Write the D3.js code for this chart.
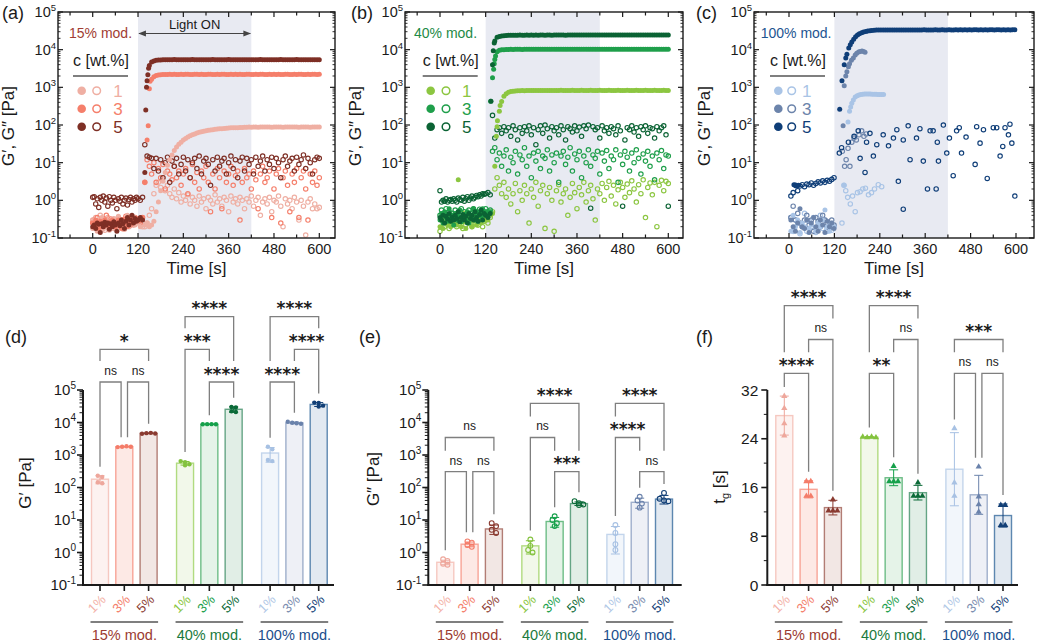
<!DOCTYPE html>
<html><head><meta charset="utf-8">
<script src="https://cdn.jsdelivr.net/npm/d3@7"></script>
<style>body{margin:0;background:#fff} svg{display:block} text{font-family:"Liberation Sans",Arial,sans-serif}</style>
</head><body><svg id="chart" width="1039" height="642"></svg>
<script>
// ================= DATA =================
const tPre = d3.range(0, 120, 4);      // sampling times before illumination (s)
const tPost = d3.range(120, 601, 6);   // sampling times from 120 s on
const tPreC = d3.range(5, 120, 6);     // panel (c) pre-illumination sampling
const tPlatC = d3.range(225, 599, 6);  // panel (c) plateau sampling
const lightOn = [120, 420];
const concLabels = ["1", "3", "5"];
const modLabels = ["15% mod.", "40% mod.", "100% mod."];
const concPct = ["1%", "3%", "5%"];
const xTickLabels = [0, 120, 240, 360, 480, 600];

// ---- (a) 15% mod. ----
const a_Gp1_pre = [0.18,0.3,0.22,0.15,0.28,0.2,0.35,0.17,0.25,0.3,0.2,0.16,0.27,0.22,0.33,0.19,0.25,0.38,0.2,0.28,0.17,0.3,0.24,0.4,0.21,0.3,0.26,0.36,0.22,0.3];
const a_Gp1_post = [0.25,0.2,0.3,0.22,0.25,0.2,0.22,0.28,0.5,0.9,1.8,3.2,5.5,8.5,12,16,21,26,31,35,40,44,48,52,55,58,61,64,66,68,70,72,74,75,77,78,79,80,81,82,83,84,84,85,85,86,86,87,87,88,87,88,88,87,88,88,89,88,88,87,88,89,88,88,87,88,89,88,88,89,88,87,88,89,88,88,87,88,89,88,88];
const a_Gp3_pre = [0.25,0.2,0.3,0.22,0.18,0.28,0.24,0.2,0.3,0.26,0.22,0.19,0.27,0.3,0.23,0.2,0.25,0.3,0.22,0.18,0.26,0.32,0.24,0.2,0.28,0.35,0.25,0.3,0.27,0.33];
const a_Gp3_post = [0.3,0.28,0.35,3,40,920,1650,1900,2050,2120,2150,2180,2200,2190,2210,2200,2220,2200,2190,2210,2200,2220,2210,2200,2190,2210,2220,2200,2210,2190,2200,2210,2220,2200,2190,2210,2200,2220,2210,2200,2190,2210,2200,2220,2200,2210,2190,2200,2220,2210,2200,2190,2210,2200,2220,2210,2200,2190,2210,2200,2220,2200,2210,2190,2200,2210,2220,2200,2190,2210,2200,2220,2210,2200,2190,2210,2200,2220,2210,2200,2210];
const a_Gp3_x = [[147,95],[152,1440]];
const a_Gp5_pre = [0.2,0.22,0.18,0.25,0.23,0.14,0.24,0.2,0.26,0.22,0.25,0.17,0.24,0.2,0.27,0.22,0.15,0.25,0.21,0.3,0.24,0.18,0.28,0.35,0.22,0.3,0.4,0.25,0.33,0.28];
const a_Gp5_post = [0.3,0.35,0.3,5.5,1500,3800,4700,5000,5200,5300,5350,5400,5380,5420,5400,5380,5450,5400,5420,5380,5400,5430,5380,5400,5450,5420,5400,5380,5410,5440,5400,5420,5380,5450,5400,5410,5430,5390,5400,5420,5450,5400,5380,5420,5410,5400,5440,5390,5420,5400,5430,5410,5380,5400,5450,5420,5400,5390,5410,5440,5400,5420,5380,5450,5400,5410,5430,5390,5400,5420,5450,5400,5380,5420,5410,5400,5440,5390,5420,5400,5410];
const a_Gp5_x = [[140.5,250],[142.5,1000],[146,2150],[148,3200]];
const a_Gpp1_pre = [0.3,0.2,0.35,0.25,0.18,0.4,0.22,0.3,0.16,0.28,0.35,0.2,0.25,0.3,0.18,0.27,0.22,0.33,0.2,0.26,0.3,0.17,0.24,0.32,0.2,0.28,0.35,0.22,0.3,0.25];
const a_Gpp1_post = [0.3,0.25,0.2,0.2,0.25,0.4,0.6,1.5,2.5,3,2.2,4,1.8,2.5,1.5,1.2,2,1.1,1.6,0.9,1.3,1.0,1.4,0.8,1.2,1.0,0.7,1.3,0.9,1.1,0.6,1.2,1.0,0.8,1.4,0.9,1.1,0.7,1.2,1.0,0.5,1.3,0.9,1.1,0.8,1.2,1.0,0.6,1.1,0.9,1.3,0.7,1.0,1.2,0.4,0.9,1.1,0.8,1.2,0.5,1.0,0.9,1.3,0.7,0.2,1.1,0.8,1.0,0.6,1.2,0.9,0.3,1.0,0.7,0.12,0.9,1.1,0.6,0.8,0.6,0.65];
const a_Gpp3_pre = [0.25,0.3,0.2,0.35,0.22,0.28,0.18,0.3,0.25,0.4,0.2,0.27,0.32,0.22,0.3,0.19,0.26,0.35,0.23,0.3,0.2,0.28,0.38,0.25,0.3,0.22,0.33,0.27,0.35,0.3];
const a_Gpp3_post = [0.3,0.25,0.35,3,12,8,5,10,3,7,4,9,2,6,5,3.5,8,4,6,2.5,5,7,1.5,4,9,3,5.5,2,6,4,8,3,0.5,5,2,7,4,0.6,6,3,5,8,2.5,4.5,6,0.3,3,7,4,5,2,6,3.5,0.6,5,8,3,4,6,0.35,2,5,7,0.25,4,6,2.5,0.5,5,3,7,0.35,4,6,2,0.3,5,3,6,2.5,4];
const a_Gpp5_pre = [1.2,1.25,0.8,1.1,0.65,1.2,1.0,1.3,0.9,1.15,0.7,1.25,1.0,0.85,1.2,1.0,0.6,1.1,0.95,1.2,0.8,1.0,1.15,0.75,1.05,1.2,0.9,1.1,1.0,1.2];
const a_Gpp5_post = [1.1,1.0,1.2,30,15,14,13,7,13,6,12,4,10,14,3,11,8,13,5,9,14,6,12,4,10,13,7,15,5,11,13,9,2.5,12,6,14,8,11,13,5,10,15,7,12,4,11,14,6,13,9,12,5,14,8,11,15,6,12,9,14,7,13,10,4,12,15,8,11,13,6,14,9,12,16,7,13,10,5,12,14,13];

// ---- (b) 40% mod. ----
const b_Gp1_pre = [0.2,0.3,0.18,0.25,0.35,0.22,0.28,0.2,0.32,0.25,0.4,0.22,3.5,0.3,0.2,0.27,0.35,0.18,0.3,0.25,0.4,0.2,0.28,0.33,0.22,0.3,0.45,0.25,0.35,0.3];
const b_Gp1_post = [0.35,0.3,0.4,0.45,8,90,230,420,580,680,740,770,790,800,810,815,820,815,820,825,820,825,830,825,820,830,825,830,825,820,830,825,830,835,825,830,825,830,835,830,825,830,835,830,825,830,835,830,825,830,835,830,825,830,835,830,830,825,835,830,825,830,835,830,825,830,835,830,825,830,835,830,825,830,835,830,825,830,835,830,830];
const b_Gp1_x = [[148,50],[151,130],[158,330]];
const b_Gp3_pre = [0.3,0.45,0.25,0.5,0.35,0.28,0.6,0.32,0.4,0.22,0.45,0.3,0.38,0.55,0.27,0.35,0.42,0.3,0.5,0.25,0.4,0.35,0.6,0.3,0.45,0.28,0.5,0.38,0.6,0.4];
const b_Gp3_post = [0.5,0.4,0.5,1800,5500,8800,9600,9900,10000,10100,10100,10200,10150,10200,10250,10200,10150,10250,10200,10300,10200,10250,10200,10300,10250,10200,10300,10250,10200,10300,10250,10300,10200,10250,10300,10250,10200,10300,10250,10300,10200,10250,10300,10250,10200,10300,10250,10300,10200,10250,10300,10250,10200,10300,10250,10300,10200,10250,10300,10250,10200,10300,10250,10300,10200,10250,10300,10250,10200,10300,10250,10300,10200,10250,10300,10250,10200,10300,10250,10300,10250];
const b_Gp3_x = [[133,430],[141,3000],[142.5,4200],[146,6800]];
const b_Gp5_pre = [0.35,0.3,0.4,0.25,0.38,0.32,0.45,0.28,0.36,0.3,0.4,0.33,0.5,0.27,0.35,0.42,0.3,0.38,0.25,0.45,0.33,0.4,0.3,0.5,0.35,0.28,0.42,0.55,0.3,0.45];
const b_Gp5_post = [0.4,0.35,0.45,4000,17000,21500,22500,23000,23500,23800,24000,24200,24100,24300,24200,24400,24300,24200,24400,24300,24500,24300,24400,24200,24500,24400,24300,24500,24400,24300,24500,24400,24600,24400,24500,24300,24500,24600,24400,24500,24600,24500,24400,24600,24500,24400,24600,24500,24700,24500,24600,24400,24600,24500,24700,24600,24500,24600,24400,24600,24500,24700,24600,24500,24600,24700,24500,24600,24400,24600,24500,24700,24600,24500,24600,24500,24700,24600,24500,24600,24500];
const b_Gp5_x = [[134,430],[140,9400],[142.5,15000]];
const b_Gpp1_pre = [0.15,0.3,0.4,0.2,0.25,0.35,0.18,0.3,0.22,0.4,0.28,0.2,0.35,0.25,0.3,0.18,0.45,0.22,0.3,0.26,0.38,0.2,0.3,0.25,0.4,0.22,0.35,0.3,0.2,0.28];
const b_Gpp1_post = [0.3,0.25,0.35,0.5,2,4,2.5,1.5,3,1.2,2,0.8,1.5,2.8,0.5,1.8,1,2.5,1.5,0.25,2,1.2,3,0.7,1.8,2.5,0.18,1.5,2.2,1,0.15,1.8,2.6,0.9,1.5,2,0.4,1.2,2.8,1.6,0.6,2.2,1.4,3,0.9,1.8,2.5,1.1,0.3,2,1.5,2.8,1,2.2,3.2,1.3,2.5,0.8,1.9,3,2.2,1.2,2.7,1.6,3.3,2,0.9,2.6,1.5,3.5,0.35,2.2,2.9,1.4,3,0.2,2.5,3.4,1.8,3.2,2.8];
const b_Gpp3_pre = [0.4,0.55,0.3,0.45,0.6,0.35,0.5,0.28,0.45,0.38,0.55,0.3,0.48,0.4,0.6,0.35,0.5,0.42,0.3,0.55,0.45,0.38,0.6,0.35,0.5,0.4,0.58,0.45,0.35,0.5];
const b_Gpp3_post = [0.6,0.5,0.55,20,25,12,18,8,15,22,6,14,10,20,5,16,12,25,8,15,4,18,11,20,7,15,13,22,6,16,10,18,3,15,20,9,14,25,6,17,12,20,4,15,10,22,8,16,13,20,5,18,11,21,7,15,12,22,3,16,9,20,14,6,18,10,22,13,5,17,11,20,8,15,3.5,18,12,21,7,16,15];
const b_Gpp5_pre = [1.8,0.9,1.0,0.95,1.1,0.9,1.0,1.05,0.95,1.1,1.0,0.9,1.15,1.05,1.0,1.2,0.95,1.1,1.25,1.0,1.15,1.3,1.1,1.2,1.35,1.25,1.4,1.3,1.5,1.45];
const b_Gpp5_post = [1.5,1.6,1.4,180,45,75,85,60,90,70,85,50,95,75,40,85,60,90,70,95,55,85,30,75,95,60,100,80,45,90,70,85,55,95,75,40,90,80,65,95,70,88,50,95,80,100,0.62,90,75,85,45,95,70,85,60,90,80,55,95,70,0.7,40,85,75,95,65,85,50,90,75,95,60,85,80,45,90,70,85,95,55,0.7];

// ---- (c) 100% mod. ----
const c_Gp1_pre = [0.15,0.4,0.2,0.3,0.14,0.25,0.2,0.3,0.18,0.22,0.35,0.15,0.25,0.2,0.3,0.55,0.2,0.15,0.25,0.2];
const c_Gp1_post = [[146,2.5],[156,120],[160,230],[163,300],[166,380],[170,460],[175,550],[180,600],[185,630],[190,650],[195,660],[200,670],[205,670],[210,665],[215,665],[220,660],[225,660],[230,655],[235,650],[240,650],[245,648],[250,645]];
const c_Gp3_pre = [0.3,0.2,0.15,0.25,0.6,0.2,0.18,0.3,0.14,0.25,0.35,0.2,0.15,0.3,0.22,0.14,0.28,0.2,0.25,0.18];
const c_Gp3_post = [[143,95],[146,1100],[150,2000],[153,2600],[157,3500],[160,4200],[165,5200],[170,6000],[175,7200],[179,8000],[184,8700],[188,9000],[193,9200],[197,9000],[201,8500]];
const c_Gp5_pre = [[13,2.6],[19,2.4],[25,2.5]];
const c_Gp5_post = [[134,260],[140,1500],[146,4000],[150,6000],[153,7500],[158,11000],[162,13500],[166,16000],[171,19000],[176,22000],[181,24500],[186,26500],[192,28000],[197,29500],[203,30500],[208,31500],[214,32000],[219,32500]];
const c_Gp5_plat = [33000,33200,33100,33300,33200,33400,33300,33200,33400,33300,33500,33300,33400,33200,33500,33400,33300,33500,33400,33300,33500,33400,33600,33400,33500,33300,33500,33600,33400,33500,33600,33500,33400,33600,33500,33400,33600,33500,33700,33500,33600,33400,33600,33500,33700,33600,33500,33600,33400,33600,33500,33700,33600,33500,33600,33700,33500,33600,33400,33600,33500,33700,33600];
const c_Gpp1_pre = [0.35,0.15,0.3,0.25,0.13,0.2,0.45,0.15,0.28,0.2,0.35,0.14,0.25,0.4,0.18,0.3,0.15,0.22,0.16,0.2];
const c_Gpp1_post = [[140,0.25],[145,2.5],[150,1.8],[155,1.2],[162,0.8],[168,1.3],[175,0.5],[181,1.6],[188,1.7],[195,2.0],[202,2.1],[210,1.4],[218,1.6],[226,2.0],[236,2.6],[245,2.3]];
const c_Gpp3_pre = [0.35,0.7,0.3,0.45,0.25,0.2,0.3,0.4,0.22,0.3,0.15,0.35,0.28,0.2,0.4,0.3,0.25,0.18,0.3,0.22];
const c_Gpp3_post = [[141,20],[147,8],[151,12],[156,24],[161,8],[166,35],[172,45],[178,40],[185,55],[192,70],[198,50],[204,58]];
const c_Gpp5_pre = [1.3,1.6,2.5,1.8,2.4,2.6,2.3,2.7,2.6,2.9,2.5,2.8,3.1,2.9,3.3,3.0,3.4,3.2,3.6,4.0];
const c_Gpp5_post = [[133,18],[139,25],[157,35],[172,50],[183,70],[188,13],[201,5.5],[205,35],[214,60],[223,15],[232,30],[249,55],[263,28],[276,45],[285,75],[289,3.2],[302,40],[302,0.58],[315,95],[320,12],[337,45],[346,80],[355,11],[366,2],[373,70],[381,70],[389,2],[392,35],[395,11],[408,100],[417,18],[424,45],[434,4.5],[443,70],[450,85],[456,18],[468,48],[492,9],[496,90],[505,33],[514,75],[524,3.8],[540,85],[549,85],[558,15],[565,27],[571,85],[580,55],[584,105],[589,33],[597,1.3]];

// ---- (d) G' bars, (e) G'' bars, (f) gelation time ----
const dMean = [180,1800,4650,560,8850,25500,1150,9750,36000];
const dSD = [50,40,120,70,60,5000,550,550,5000];
const dPts = [[230,210,145,135],[1750,1800,1850,1800],[4500,4700,4800,4600],[650,600,520,480],[8800,8900,8900,8800],[30000,29000,22000,21000],[1800,1500,700,650],[10500,9800,9500,9200],[41000,40000,33000,31000]];
const eMean = [0.5,1.8,5.3,1.6,9,32,3.6,35,44];
const eSD = [0.08,0.3,1.7,0.7,3,4,2.7,12,13];
const ePts = [[0.62,0.55,0.45,0.42],[2.2,2.0,1.7,1.5],[8,6.5,5,4],[2.5,1.6,1.2,1.0],[13,10,8,6.5],[38,33,30,29],[7,4,1.8,1.2],[52,40,32,24],[68,45,40,38]];
const fMean = [27.8,15.7,12.7,24.25,17.6,15.15,19.0,14.8,11.4];
const fSD = [3.2,1.4,1.2,0.1,1.3,1.2,6.0,3.2,1.9];
const fPts = [[31,29,26.5,24.5],[17,17,14.6,14.6],[14,12.2,12.2,12.2],[24.3,24.2,24.3,24.2],[19.5,17,17,17],[16.8,14.6,14.6,14.6],[25.7,16.8,14.6],[19.4,14.5,13.2,12.0],[13.1,13.1,9.8,9.8]];
// comparisons: [group, barA, barB, label, row]
const dComps = [[0,0,1,"ns",1],[0,1,2,"ns",1],[0,0,2,"*",2],[1,0,1,"***",2],[1,1,2,"****",1],[1,0,2,"****",3],[2,0,1,"****",1],[2,1,2,"****",2],[2,0,2,"****",3]];
const eComps = [[0,0,1,"ns",1],[0,1,2,"ns",1],[0,0,2,"ns",2],[1,0,1,"ns",2],[1,1,2,"***",1],[1,0,2,"****",3],[2,0,1,"****",2],[2,1,2,"ns",1],[2,0,2,"****",3]];
const fComps = [[0,0,1,"****",1],[0,1,2,"ns",2],[0,0,2,"****",3],[1,0,1,"**",1],[1,1,2,"ns",2],[1,0,2,"****",3],[2,0,1,"ns",1],[2,1,2,"ns",1],[2,0,2,"***",2]];
const fTicks = [0, 8, 16, 24, 32];

// ================= STYLE =================
const A_COL = ["#efafa3", "#f57f6b", "#7e2f25"];
const B_COL = ["#8cc641", "#1f9f4b", "#0b6334"];
const C_COL = ["#a9c4e6", "#6c84ab", "#0f3e78"];
const barFill = ["#fdf2f0","#fde9e5","#f2e7e4","#f2f8ea","#e5f3e8","#e1eee6","#f2f6fb","#eef0f6","#e2e9f1"];
const barStroke = ["#f6c8c0","#f8a497","#b27d75","#b1db80","#6dbd86","#65a585","#c3d5ec","#9fafcb","#5d87b0"];
const ptCol = ["#eea79c","#f47c69","#8a3a30","#83c23e","#15a04a","#0b6a38","#a7c1e3","#6a82ab","#123f76"];
const lblCol = ["#f3b2a8","#f4806c","#8c3d33","#88c540","#1aa04c","#0c6a37","#b1c8e6","#7a8daf","#143f77"];
const grpCol = ["#9b3b31","#1a7a3d","#1b4e8c"];
const INK = "#1a1a1a";

const svg = d3.select("#chart");
const defs = svg.append("defs");
defs.append("marker").attr("id","arrH").attr("viewBox","0 0 10 10").attr("refX",9).attr("refY",5)
  .attr("markerWidth",7).attr("markerHeight",7).attr("orient","auto-start-reverse")
  .append("path").attr("d","M0,1 L10,5 L0,9 Z").attr("fill","#444");

function zip(ts, vs) { const o = []; for (let k = 0; k < Math.min(ts.length, vs.length); k++) if (vs[k] != null) o.push([ts[k], vs[k]]); return o; }

function powLabel(g, x, y, exp, size, supSize, anchor) {
  const t = g.append("text").attr("x", x).attr("y", y).attr("text-anchor", anchor || "end")
    .attr("font-size", size).attr("fill", INK);
  t.append("tspan").text("10");
  t.append("tspan").attr("font-size", supSize).attr("dy", -size * 0.42).text(exp);
  return t;
}

// ================= TOP PANELS =================
const topCfg = [
  { letter: "(a)", lx: 2, left: 58, right: 335, x0: 92.7, x600: 319.3, mod: 0, cols: A_COL, titleCol: "#a13d33",
    titleX: 69, legX: 73, mk1: 81.7, mk2: 96.7, numX: 118, arrow: true,
    Gp: [zip(tPre,a_Gp1_pre).concat(zip(tPost,a_Gp1_post)), zip(tPre,a_Gp3_pre).concat(zip(tPost,a_Gp3_post), a_Gp3_x), zip(tPre,a_Gp5_pre).concat(zip(tPost,a_Gp5_post), a_Gp5_x)],
    Gpp: [zip(tPre,a_Gpp1_pre).concat(zip(tPost,a_Gpp1_post)), zip(tPre,a_Gpp3_pre).concat(zip(tPost,a_Gpp3_post)), zip(tPre,a_Gpp5_pre).concat(zip(tPost,a_Gpp5_post))] },
  { letter: "(b)", lx: 351, left: 405, right: 683, x0: 440, x600: 668.3, mod: 1, cols: B_COL, titleCol: "#1e8a46",
    titleX: 414, legX: 422.7, mk1: 430.7, mk2: 446, numX: 466.7, arrow: false,
    Gp: [zip(tPre,b_Gp1_pre).concat(zip(tPost,b_Gp1_post), b_Gp1_x), zip(tPre,b_Gp3_pre).concat(zip(tPost,b_Gp3_post), b_Gp3_x), zip(tPre,b_Gp5_pre).concat(zip(tPost,b_Gp5_post), b_Gp5_x)],
    Gpp: [zip(tPre,b_Gpp1_pre).concat(zip(tPost,b_Gpp1_post)), zip(tPre,b_Gpp3_pre).concat(zip(tPost,b_Gpp3_post)), zip(tPre,b_Gpp5_pre).concat(zip(tPost,b_Gpp5_post))] },
  { letter: "(c)", lx: 696, left: 754, right: 1034, x0: 789, x600: 1016, mod: 2, cols: C_COL, titleCol: "#1d5591",
    titleX: 760.7, legX: 770, mk1: 778.3, mk2: 791.7, numX: 806.7, arrow: false,
    Gp: [zip(tPreC,c_Gp1_pre).concat(c_Gp1_post), zip(tPreC,c_Gp3_pre).concat(c_Gp3_post), c_Gp5_pre.concat(c_Gp5_post, zip(tPlatC,c_Gp5_plat))],
    Gpp: [zip(tPreC,c_Gpp1_pre).concat(c_Gpp1_post), zip(tPreC,c_Gpp3_pre).concat(c_Gpp3_post), zip(tPreC,c_Gpp5_pre).concat(c_Gpp5_post)] }
];

topCfg.forEach((cfg, pi) => {
  const T = 12, B = 238, L = cfg.left, R = cfg.right;
  const g = svg.append("g");
  const x = d3.scaleLinear().domain([0, 600]).range([cfg.x0, cfg.x600]);
  const y = d3.scaleLog().domain([0.1, 1e5]).range([B, T]);
  g.append("rect").attr("x", x(lightOn[0])).attr("y", T).attr("width", x(lightOn[1]) - x(lightOn[0]))
    .attr("height", B - T).attr("fill", "#e8eaf2");
  const cid = "clipTop" + pi;
  defs.append("clipPath").attr("id", cid).append("rect").attr("x", L).attr("y", T - 3).attr("width", R - L).attr("height", B - T + 3);
  const gp = g.append("g").attr("clip-path", `url(#${cid})`);
  [0, 1, 2].forEach(k => {
    gp.append("g").selectAll("circle").data(cfg.Gpp[k]).join("circle")
      .attr("cx", d => x(d[0])).attr("cy", d => y(d[1])).attr("r", 2.2)
      .attr("fill", "none").attr("stroke", cfg.cols[k]).attr("stroke-width", 1.15);
  });
  [0, 1, 2].forEach(k => {
    gp.append("g").selectAll("circle").data(cfg.Gp[k]).join("circle")
      .attr("cx", d => x(d[0])).attr("cy", d => y(d[1])).attr("r", 2.5).attr("fill", cfg.cols[k]);
  });
  // frame
  g.append("rect").attr("x", L).attr("y", T).attr("width", R - L).attr("height", B - T)
    .attr("fill", "none").attr("stroke", INK).attr("stroke-width", 1.4);
  // y ticks
  for (let e = -1; e <= 5; e++) {
    const yy = y(Math.pow(10, e));
    g.append("line").attr("x1", L).attr("x2", L + 5).attr("y1", yy).attr("y2", yy).attr("stroke", INK).attr("stroke-width", 1.2);
    g.append("line").attr("x1", R).attr("x2", R - 5).attr("y1", yy).attr("y2", yy).attr("stroke", INK).attr("stroke-width", 1.2);
    powLabel(g, L - 2, yy + 5, String(e), 14.5, 9.5);
    if (e < 5) for (let m = 2; m <= 9; m++) {
      const ym = y(m * Math.pow(10, e));
      g.append("line").attr("x1", L).attr("x2", L + 2.5).attr("y1", ym).attr("y2", ym).attr("stroke", INK).attr("stroke-width", 0.9);
      g.append("line").attr("x1", R).attr("x2", R - 2.5).attr("y1", ym).attr("y2", ym).attr("stroke", INK).attr("stroke-width", 0.9);
    }
  }
  // x ticks
  d3.range(-60, 601, 60).forEach(t => {
    const xx = x(t);
    const len = (t % 120 === 0) ? 5 : 3.5;
    g.append("line").attr("x1", xx).attr("x2", xx).attr("y1", B).attr("y2", B - len).attr("stroke", INK).attr("stroke-width", 1.2);
    g.append("line").attr("x1", xx).attr("x2", xx).attr("y1", T).attr("y2", T + len).attr("stroke", INK).attr("stroke-width", 1.2);
  });
  xTickLabels.forEach(t => {
    g.append("text").attr("x", x(t)).attr("y", 253.5).attr("text-anchor", "middle").attr("font-size", 14.5).attr("fill", INK).text(t);
  });
  g.append("text").attr("x", (L + R) / 2).attr("y", 274).attr("text-anchor", "middle").attr("font-size", 17).attr("fill", INK).text("Time [s]");
  g.append("text").attr("transform", `translate(${L - 44},${(T + B) / 2 + 1}) rotate(-90)`).attr("text-anchor", "middle")
    .attr("font-size", 17).attr("fill", INK).text("G′, G″ [Pa]");
  g.append("text").attr("x", cfg.lx).attr("y", 19).attr("font-size", 18).attr("fill", INK).text(cfg.letter);
  // title + legend
  g.append("text").attr("x", cfg.titleX).attr("y", 38).attr("font-size", 14).attr("fill", cfg.titleCol).text(modLabels[cfg.mod]);
  g.append("text").attr("x", cfg.legX).attr("y", 66).attr("font-size", 16).attr("fill", INK).text("c [wt.%]");
  g.append("line").attr("x1", cfg.legX).attr("x2", cfg.legX + 55).attr("y1", 76).attr("y2", 76).attr("stroke", "#555").attr("stroke-width", 1.4);
  concLabels.forEach((c, k) => {
    const yy = 90.7 + k * 18;
    g.append("circle").attr("cx", cfg.mk1).attr("cy", yy).attr("r", 4.3).attr("fill", cfg.cols[k]);
    g.append("circle").attr("cx", cfg.mk2).attr("cy", yy).attr("r", 3.8).attr("fill", "none").attr("stroke", cfg.cols[k]).attr("stroke-width", 1.5);
    g.append("text").attr("x", cfg.numX).attr("y", yy + 6).attr("text-anchor", "middle").attr("font-size", 17).attr("fill", cfg.cols[k]).text(c);
  });
  if (cfg.arrow) {
    g.append("text").attr("x", x((lightOn[0] + lightOn[1]) / 2)).attr("y", 29).attr("text-anchor", "middle")
      .attr("font-size", 13).attr("fill", INK).text("Light ON");
    g.append("line").attr("x1", x(lightOn[0]) + 1).attr("x2", x(lightOn[1]) - 1).attr("y1", 33.5).attr("y2", 33.5)
      .attr("stroke", "#444").attr("stroke-width", 1.1).attr("marker-start", "url(#arrH)").attr("marker-end", "url(#arrH)");
  }
});

// ================= BOTTOM PANELS =================
function drawBars(cfg) {
  const g = svg.append("g");
  const x0 = cfg.x0, base = 585, topY = 390;
  const xs = d3.scaleLinear().domain([0, 1]).range([x0 + 17, x0 + 17 + 24.3]);
  const slot = b => Math.floor(b / 3) * 3.5 + (b % 3);
  const bx = b => xs(slot(b));
  const y = cfg.y;
  const dataTop = b => y(Math.max(cfg.mean[b] + cfg.sd[b], d3.max(cfg.pts[b])));
  cfg.mean.forEach((m, b) => {
    g.append("rect").attr("x", bx(b) - 8.5).attr("y", y(m)).attr("width", 17).attr("height", base - y(m))
      .attr("fill", barFill[b]).attr("stroke", barStroke[b]).attr("stroke-width", 1.4);
  });
  cfg.mean.forEach((m, b) => {
    const lo = y(Math.max(m - cfg.sd[b], 1e-9)), hi = y(m + cfg.sd[b]);
    const c = ptCol[b];
    g.append("line").attr("x1", bx(b)).attr("x2", bx(b)).attr("y1", Math.min(lo, base)).attr("y2", hi).attr("stroke", c).attr("stroke-width", 1);
    [hi, Math.min(lo, base)].forEach(yy => g.append("line").attr("x1", bx(b) - 4.5).attr("x2", bx(b) + 4.5).attr("y1", yy).attr("y2", yy).attr("stroke", c).attr("stroke-width", 1));
  });
  cfg.pts.forEach((arr, b) => {
    const ys = arr.map(v => y(v));
    const clusters = [];
    ys.forEach((yy, k) => {
      let cl = clusters.find(c => Math.abs(c.y - yy) < 3.5);
      if (!cl) { cl = { y: yy, items: [] }; clusters.push(cl); }
      cl.items.push(k);
    });
    clusters.forEach(cl => {
      const n = cl.items.length;
      cl.items.forEach((k, j) => {
        const px = bx(b) + (j - (n - 1) / 2) * 4.4, py = ys[k];
        if (cfg.shape === "tri") {
          g.append("path").attr("d", d3.symbol(d3.symbolTriangle, 17)()).attr("transform", `translate(${px},${py})`).attr("fill", ptCol[b]);
        } else if (cfg.shape === "open") {
          g.append("circle").attr("cx", px).attr("cy", py).attr("r", 2.4).attr("fill", "none").attr("stroke", ptCol[b]).attr("stroke-width", 1.1);
        } else {
          g.append("circle").attr("cx", px).attr("cy", py).attr("r", 2.2).attr("fill", ptCol[b]);
        }
      });
    });
  });
  g.append("line").attr("x1", x0).attr("x2", x0).attr("y1", topY).attr("y2", base + 1).attr("stroke", INK).attr("stroke-width", 2);
  g.append("line").attr("x1", x0 - 1).attr("x2", cfg.xEnd).attr("y1", base).attr("y2", base).attr("stroke", INK).attr("stroke-width", 2);
  if (cfg.log) {
    for (let e = -1; e <= 5; e++) {
      const yy = y(Math.pow(10, e));
      g.append("line").attr("x1", x0 - 6).attr("x2", x0).attr("y1", yy).attr("y2", yy).attr("stroke", INK).attr("stroke-width", 1.6);
      powLabel(g, x0 - 7, yy + 5, String(e), 15, 10);
      if (e < 5) for (let m = 2; m <= 9; m++) {
        const ym = y(m * Math.pow(10, e));
        g.append("line").attr("x1", x0 - 3.5).attr("x2", x0).attr("y1", ym).attr("y2", ym).attr("stroke", INK).attr("stroke-width", 1);
      }
    }
  } else {
    fTicks.forEach(t => {
      g.append("line").attr("x1", x0 - 6).attr("x2", x0).attr("y1", y(t)).attr("y2", y(t)).attr("stroke", INK).attr("stroke-width", 1.6);
      g.append("text").attr("x", x0 - 9).attr("y", y(t) + 5.5).attr("text-anchor", "end").attr("font-size", 15.5).attr("fill", INK).text(t);
    });
    d3.range(4, 32, 8).forEach(t => g.append("line").attr("x1", x0 - 3.5).attr("x2", x0).attr("y1", y(t)).attr("y2", y(t)).attr("stroke", INK).attr("stroke-width", 1));
  }
  cfg.mean.forEach((m, b) => {
    g.append("line").attr("x1", bx(b)).attr("x2", bx(b)).attr("y1", base).attr("y2", base + 6).attr("stroke", INK).attr("stroke-width", 1.6);
    g.append("text").attr("transform", `translate(${bx(b)},${607}) rotate(-45)`).attr("text-anchor", "middle")
      .attr("font-size", 13).attr("fill", lblCol[b]).text(concPct[b % 3]);
  });
  modLabels.forEach((lab, k) => {
    const xa = bx(k * 3) - 9.5, xb = bx(k * 3 + 2) + 9.5;
    g.append("line").attr("x1", xa).attr("x2", xb).attr("y1", 622).attr("y2", 622).attr("stroke", "#555").attr("stroke-width", 1.5);
    g.append("text").attr("x", (xa + xb) / 2).attr("y", 640).attr("text-anchor", "middle").attr("font-size", 14.5).attr("fill", grpCol[k]).text(lab);
  });
  const rowY = r => cfg.row1 - (r - 1) * cfg.rowStep;
  cfg.comps.forEach(c => {
    const [grp, i, j, lab, row] = c;
    const same = cfg.comps.filter(o => o !== c && o[0] === grp && o[4] === row);
    const xl = bx(grp * 3 + i) + (same.some(o => o[2] === i) ? 3.2 : 0);
    const xr = bx(grp * 3 + j) - (same.some(o => o[1] === j) ? 3.2 : 0);
    const yb = rowY(row);
    const legEnd = bar => {
      const lower = cfg.comps.filter(o => o[0] === grp && o[4] < row && o[1] <= bar && o[2] >= bar);
      if (lower.length) return rowY(d3.max(lower, o => o[4])) - 21;
      return dataTop(grp * 3 + bar) - 9;
    };
    g.append("path").attr("d", `M${xl},${legEnd(i)}V${yb}H${xr}V${legEnd(j)}`)
      .attr("fill", "none").attr("stroke", "#7f7f7f").attr("stroke-width", 1.3);
    const isNs = lab === "ns";
    g.append("text").attr("x", (xl + xr) / 2).attr("y", isNs ? yb - 7.2 : yb - 2.4).attr("text-anchor", "middle")
      .attr("font-size", isNs ? 12 : 17).attr("font-weight", isNs ? "normal" : "bold")
      .style("font-family", isNs ? '"Liberation Sans", Arial, sans-serif' : '"DejaVu Sans", sans-serif')
      .attr("fill", INK).text(lab);
  });
  g.append("text").attr("x", cfg.letterX).attr("y", 343).attr("font-size", 18).attr("fill", INK).text(cfg.letter);
  const yl = g.append("text").attr("transform", `translate(${cfg.ylabX},${cfg.ylabY}) rotate(-90)`).attr("text-anchor", "middle")
    .attr("font-size", 17).attr("fill", INK);
  if (cfg.tg) {
    yl.append("tspan").text("t");
    yl.append("tspan").attr("font-size", 11).attr("dy", 4).text("g");
    yl.append("tspan").attr("dy", -4).text(" [s]");
  } else yl.text(cfg.ylab);
}

drawBars({ x0: 83, xEnd: 334, y: d3.scaleLog().domain([0.1, 1e5]).range([585, 390]), log: true, mean: dMean, sd: dSD, pts: dPts,
  comps: dComps, row1: 382, rowStep: 32.7, shape: "dot", letter: "(d)", letterX: 5, ylab: "G′ [Pa]", ylabX: 31, ylabY: 483 });
drawBars({ x0: 428.3, xEnd: 681.7, y: d3.scaleLog().domain([0.1, 1e5]).range([585, 390]), log: true, mean: eMean, sd: eSD, pts: ePts,
  comps: eComps, row1: 471.7, rowStep: 34.2, shape: "open", letter: "(e)", letterX: 359, ylab: "G″ [Pa]", ylabX: 379, ylabY: 479 });
drawBars({ x0: 767.3, xEnd: 1018, y: d3.scaleLinear().domain([0, 32]).range([585, 390]), log: false, mean: fMean, sd: fSD, pts: fPts,
  comps: fComps, row1: 373.3, rowStep: 33.8, shape: "tri", letter: "(f)", letterX: 696, tg: true, ylabX: 725, ylabY: 487 });
</script></body></html>
